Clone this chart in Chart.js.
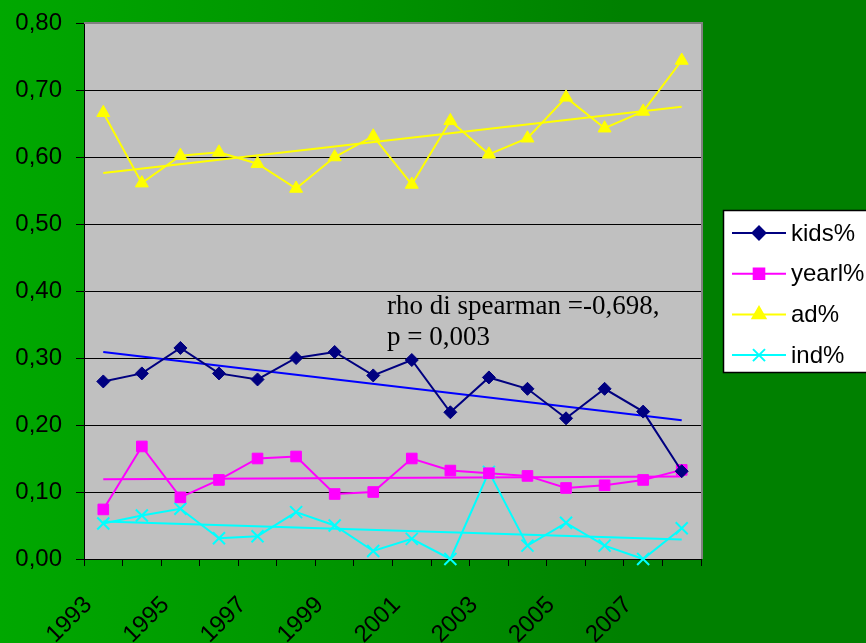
<!DOCTYPE html>
<html>
<head>
<meta charset="utf-8">
<script src="https://cdn.jsdelivr.net/npm/chart.js@4.4.1/dist/chart.umd.min.js"></script>
<style>
  html, body { margin: 0; padding: 0; }
  body {
    width: 866px; height: 643px; overflow: hidden;
    background: linear-gradient(to right, #00a800 0%, #009400 40%, #008000 72%, #008000 100%);
  }
  canvas { display: block; }
</style>
</head>
<body>
<canvas id="chart" width="866" height="643"></canvas>
<script>
const years = ['1993', '1994', '1995', '1996', '1997', '1998', '1999', '2000',
               '2001', '2002', '2003', '2004', '2005', '2006', '2007', '2008'];

const kids  = [0.265, 0.277, 0.315, 0.277, 0.268, 0.300, 0.309, 0.274,
               0.297, 0.219, 0.271, 0.254, 0.210, 0.254, 0.220, 0.131];
const yearl = [0.074, 0.168, 0.092, 0.118, 0.150, 0.153, 0.097, 0.100,
               0.150, 0.132, 0.128, 0.124, 0.106, 0.110, 0.118, 0.133];
const ad    = [0.666, 0.561, 0.602, 0.607, 0.590, 0.553, 0.600, 0.631,
               0.559, 0.654, 0.604, 0.628, 0.689, 0.643, 0.668, 0.744];
const ind   = [0.053, 0.065, 0.075, 0.031, 0.034, 0.070, 0.050, 0.012,
               0.030, 0.000, 0.130, 0.020, 0.054, 0.020, 0.000, 0.046];

// linee di tendenza: valore al primo e all'ultimo anno
const kidsTrend  = [0.309, 0.207];
const yearlTrend = [0.119, 0.123];
const adTrend    = [0.576, 0.675];
const indTrend   = [0.056, 0.029];

const yTickLabels = ['0,00', '0,10', '0,20', '0,30', '0,40', '0,50', '0,60', '0,70', '0,80'];
const noteLines = ['rho di spearman =-0,698,', 'p = 0,003'];

const SANS = '"Liberation Sans", Arial, sans-serif';

const trend = (vals) => [
  { x: years[0], y: vals[0] },
  { x: years[years.length - 1], y: vals[1] }
];

const series = (label, data, color, style, radius) => ({
  label, data,
  borderColor: color, backgroundColor: color,
  borderWidth: 2,
  pointStyle: style, pointRadius: radius, pointHoverRadius: radius,
  pointBorderColor: color, pointBackgroundColor: color, pointBorderWidth: style === 'crossRot' ? 2 : 1,
  tension: 0, clip: false, order: 1
});

const trendLine = (data, color) => ({
  label: '', data,
  borderColor: color, borderWidth: 2,
  pointRadius: 0, tension: 0, clip: false, order: 2
});

const plotFrame = {
  id: 'plotFrame',
  beforeDraw(chart) {
    const { ctx, chartArea: a } = chart;
    ctx.save();
    ctx.fillStyle = '#c0c0c0';
    ctx.fillRect(a.left, a.top, a.right - a.left, a.bottom - a.top);
    ctx.restore();
  },
  beforeDatasetsDraw(chart) {
    const { ctx, chartArea: a } = chart;
    ctx.save();
    ctx.strokeStyle = '#808080';
    ctx.lineWidth = 2;
    ctx.beginPath();
    ctx.moveTo(a.left, a.top);
    ctx.lineTo(a.right + 1, a.top);
    ctx.lineTo(a.right + 1, a.bottom);
    ctx.stroke();
    ctx.restore();
  },
  afterDatasetsDraw(chart) {
    // testo con il coefficiente di Spearman
    const { ctx, scales } = chart;
    const x = scales.x.getPixelForValue(7.36);
    ctx.save();
    ctx.fillStyle = '#000';
    ctx.font = '27px "Liberation Serif", "Times New Roman", serif';
    ctx.textBaseline = 'alphabetic';
    ctx.fillText(noteLines[0], x, scales.y.getPixelForValue(0.366));
    ctx.fillText(noteLines[1], x, scales.y.getPixelForValue(0.320));
    ctx.restore();
  },
  afterDraw(chart) {
    // legenda in stile Excel: linea + marcatore
    const { ctx } = chart;
    ctx.save();
    ctx.fillStyle = '#fff';
    ctx.fillRect(723, 210, 150, 162);
    ctx.strokeStyle = '#000';
    ctx.lineWidth = 1.5;
    ctx.strokeRect(723.5, 210.5, 150, 162);
    ctx.font = '24px ' + SANS;
    ctx.textBaseline = 'middle';
    chart.data.datasets.slice(0, 4).forEach((ds, i) => {
      const y = 233 + i * 40.7;
      ctx.strokeStyle = ds.borderColor;
      ctx.fillStyle = ds.borderColor;
      ctx.lineWidth = 2;
      ctx.beginPath();
      ctx.moveTo(732, y);
      ctx.lineTo(786, y);
      ctx.stroke();
      Chart.helpers.drawPoint(ctx, {
        pointStyle: ds.pointStyle, radius: ds.pointRadius, rotation: 0,
        borderWidth: ds.pointBorderWidth
      }, 759, y);
      ctx.fillStyle = '#000';
      ctx.fillText(ds.label, 791, y + 1);
    });
    ctx.restore();
  }
};

new Chart(document.getElementById('chart'), {
  type: 'line',
  data: {
    labels: years,
    datasets: [
      series('kids%', kids, '#000080', 'rectRot', 6.5),
      series('yearl%', yearl, '#ff00ff', 'rect', 7.5),
      series('ad%', ad, '#ffff00', 'triangle', 7.5),
      series('ind%', ind, '#00ffff', 'crossRot', 8.5),
      trendLine(trend(kidsTrend), '#0000ff'),
      trendLine(trend(yearlTrend), '#ff00ff'),
      trendLine(trend(adTrend), '#ffff00'),
      trendLine(trend(indTrend), '#00ffff')
    ]
  },
  options: {
    responsive: false,
    animation: false,
    events: [],
    layout: { padding: { top: 23, right: 165, left: 0, bottom: 0 } },
    plugins: { legend: { display: false }, tooltip: { enabled: false } },
    scales: {
      x: {
        offset: true,
        afterFit: (s) => { s.height = 84; s.paddingLeft = 0; s.paddingRight = 0; },
        grid: { offset: true, drawOnChartArea: false, drawTicks: true, tickLength: 7, color: '#000' },
        border: { color: '#000', width: 1 },
        ticks: {
          autoSkip: false, maxRotation: 45, minRotation: 45,
          labelOffset: -15, padding: 25,
          color: '#000', font: { family: SANS, size: 24 },
          callback: (v, i) => (i % 2 === 0 ? years[i] : '')
        }
      },
      y: {
        min: 0, max: 0.8,
        afterFit: (s) => { s.width = 84; s.paddingTop = 0; s.paddingBottom = 0; },
        grid: { color: '#000', lineWidth: 1, drawTicks: true, tickLength: 8 },
        border: { color: '#000', width: 1 },
        ticks: {
          stepSize: 0.1, padding: 14,
          color: '#000', font: { family: SANS, size: 24 },
          callback: (v, i) => yTickLabels[i]
        }
      }
    }
  },
  plugins: [plotFrame]
});
</script>
</body>
</html>
